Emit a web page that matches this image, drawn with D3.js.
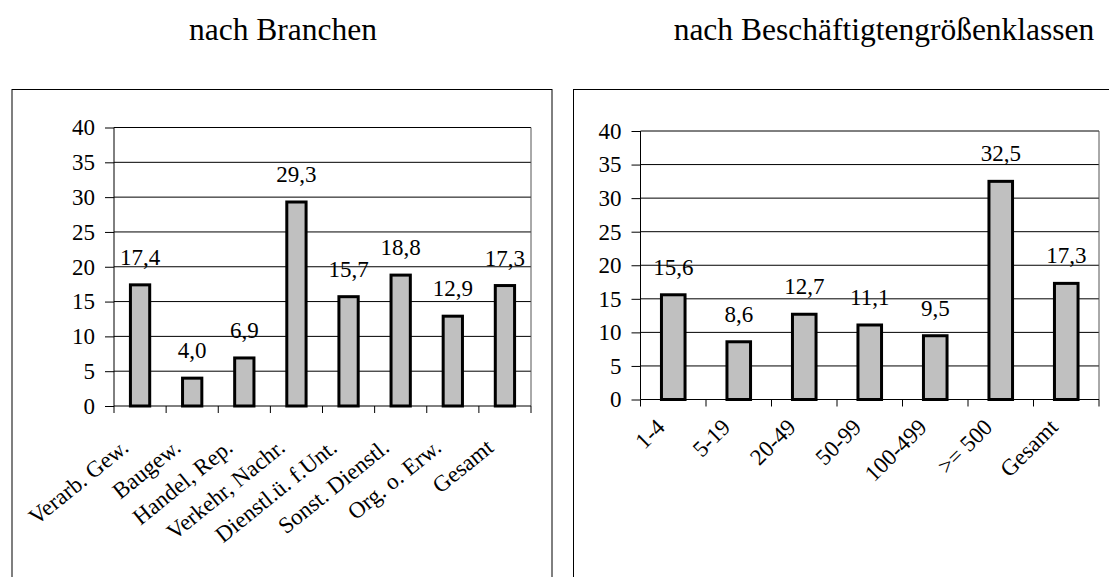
<!DOCTYPE html>
<html>
<head>
<meta charset="utf-8">
<script src="https://cdn.jsdelivr.net/npm/d3@7"></script>
<style>
  html, body { margin: 0; padding: 0; background: #fff; }
  svg { display: block; }
  text { font-family: "Liberation Serif", "Times New Roman", serif; fill: #000; }
</style>
</head>
<body>
<svg id="chart" width="1109" height="577"></svg>
<script>
// ---- data ----
const branchenCategories = ["Verarb. Gew.", "Baugew.", "Handel, Rep.", "Verkehr, Nachr.", "Dienstl.ü. f.Unt.", "Sonst. Dienstl.", "Org. o. Erw.", "Gesamt"];
const branchenValues = [17.4, 4.0, 6.9, 29.3, 15.7, 18.8, 12.9, 17.3];
const groessenCategories = ["1-4", "5-19", "20-49", "50-99", "100-499", ">= 500", "Gesamt"];
const groessenValues = [15.6, 8.6, 12.7, 11.1, 9.5, 32.5, 17.3];
const yTicks = [0, 5, 10, 15, 20, 25, 30, 35, 40];
const titles = ["nach Branchen", "nach Beschäftigtengrößenklassen"];

const FONT = '"Liberation Serif", "Times New Roman", serif';
const svg = d3.select("#chart");
const fmt = v => d3.format(".1f")(v).replace(".", ",");

function drawPanel(cfg) {
  const g = svg.append("g").attr("font-family", FONT);
  // frame
  g.append("rect")
    .attr("x", cfg.frame[0]).attr("y", cfg.frame[1])
    .attr("width", cfg.frame[2]).attr("height", cfg.frame[3])
    .attr("fill", "none").attr("stroke", "#000").attr("stroke-width", 1);

  const x = d3.scaleBand().domain(cfg.categories).range([cfg.x0, cfg.x1]).padding(0);
  const y = d3.scaleLinear().domain([0, 40]).range([cfg.yB, cfg.yT]);

  // gridlines
  g.append("g").selectAll("line").data(yTicks.filter(t => t > 0)).join("line")
    .attr("x1", cfg.x0).attr("x2", cfg.x1)
    .attr("y1", d => y(d)).attr("y2", d => y(d))
    .attr("stroke", "#000").attr("stroke-width", 1);
  // plot right border
  g.append("line").attr("x1", cfg.x1).attr("x2", cfg.x1).attr("y1", cfg.yT).attr("y2", cfg.yB)
    .attr("stroke", "#555").attr("stroke-width", 1);

  // y axis
  const yAxis = d3.axisLeft(y).tickValues(yTicks).tickSize(9).tickPadding(10).tickFormat(d => d);
  const ya = g.append("g").attr("transform", `translate(${cfg.x0},0)`).call(yAxis)
    .attr("font-family", FONT).attr("font-size", 23);
  ya.select(".domain").attr("stroke", "#000").attr("d", `M0,${cfg.yT}V${cfg.yB}`);
  ya.selectAll("line").attr("stroke", "#000");
  ya.selectAll("text").style("font-family", FONT).style("font-size", "23px").attr("fill", "#000");

  // x axis (ticks at band boundaries)
  const bounds = cfg.categories.map(c => x(c)).concat([cfg.x1]);
  g.append("line").attr("x1", cfg.x0).attr("x2", cfg.x1).attr("y1", cfg.yB).attr("y2", cfg.yB)
    .attr("stroke", "#000").attr("stroke-width", 1);
  g.append("g").selectAll("line").data(bounds).join("line")
    .attr("x1", d => d).attr("x2", d => d).attr("y1", cfg.yB).attr("y2", cfg.yB + 7)
    .attr("stroke", "#000").attr("stroke-width", 1);

  // bars
  const bw = x.bandwidth() * cfg.barFrac;
  g.append("g").selectAll("rect").data(cfg.values).join("rect")
    .attr("x", (d, i) => x(cfg.categories[i]) + x.bandwidth() / 2 - bw / 2)
    .attr("y", d => y(d))
    .attr("width", bw)
    .attr("height", d => y(0) - y(d))
    .attr("fill", "#c0c0c0").attr("stroke", "#000").attr("stroke-width", 3);

  // value labels
  g.append("g").selectAll("text").data(cfg.values).join("text")
    .attr("x", (d, i) => x(cfg.categories[i]) + x.bandwidth() / 2)
    .attr("y", d => y(d) - 20)
    .attr("text-anchor", "middle")
    .style("font-size", "23px")
    .text(d => fmt(d));

  // category labels
  g.append("g").selectAll("text").data(cfg.categories).join("text")
    .attr("transform", d => `translate(${x(d) + x.bandwidth() / 2 - cfg.lblDx},${cfg.yB + cfg.lblDy}) rotate(${cfg.angle})`)
    .attr("text-anchor", "end")
    .style("font-size", "23px")
    .text(d => d);

  // title
  svg.append("text").attr("x", cfg.titleX).attr("y", 40)
    .attr("text-anchor", "middle").attr("font-family", FONT).style("font-size", "31.5px")
    .text(cfg.title);
}

drawPanel({
  categories: branchenCategories, values: branchenValues, title: titles[0],
  frame: [12, 89.5, 540, 520],
  x0: 114, x1: 531, yT: 127.5, yB: 406,
  barFrac: 0.37, lblDx: 10, lblDy: 44, angle: -39, titleX: 283
});
drawPanel({
  categories: groessenCategories, values: groessenValues, title: titles[1],
  frame: [573.5, 89.5, 545, 520],
  x0: 640.5, x1: 1099, yT: 131, yB: 399.5,
  barFrac: 0.36, lblDx: 7, lblDy: 29, angle: -45, titleX: 884
});
</script>
</body>
</html>
